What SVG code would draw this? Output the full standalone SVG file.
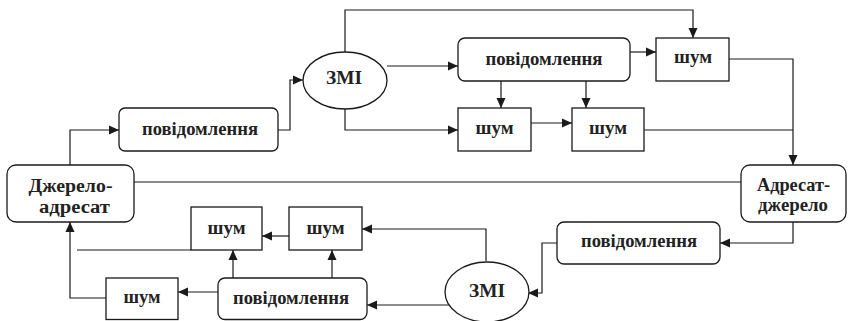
<svg xmlns="http://www.w3.org/2000/svg" width="848" height="321" viewBox="0 0 848 321">
<defs>
<marker id="ah" markerUnits="userSpaceOnUse" markerWidth="12" markerHeight="10" refX="10" refY="5" orient="auto">
<path d="M0,0.5 L10,5 L0,9.5 Z" fill="#1a1a1a"/>
</marker>
</defs>
<rect width="848" height="321" fill="#fff"/>
<g id="connectors" fill="none" stroke="#1a1a1a" stroke-width="1.2">
<path marker-end="url(#ah)" d="M70,165 V130 H119"/>
<path marker-end="url(#ah)" d="M278,130 H290 V80 H303"/>
<path marker-end="url(#ah)" d="M345,52 V10 H693 V38"/>
<path marker-end="url(#ah)" d="M345,109 V130 H458"/>
<path marker-end="url(#ah)" d="M387,66 H458"/>
<path marker-end="url(#ah)" d="M630,52 H656"/>
<path marker-end="url(#ah)" d="M501,81 V108"/>
<path marker-end="url(#ah)" d="M586,81 V108"/>
<path marker-end="url(#ah)" d="M529,123 H572"/>
<path marker-end="url(#ah)" d="M729,59 H793 V165"/>
<path d="M644,130 H793"/>
<path d="M134,182 H741"/>
<path marker-end="url(#ah)" d="M793,222 V243 H720"/>
<path marker-end="url(#ah)" d="M557,243 H542 V293 H528"/>
<path marker-end="url(#ah)" d="M486,261 V229 H362"/>
<path marker-end="url(#ah)" d="M449,305 H367"/>
<path marker-end="url(#ah)" d="M218,292 H178"/>
<path marker-end="url(#ah)" d="M233,278 V250"/>
<path marker-end="url(#ah)" d="M332,278 V250"/>
<path marker-end="url(#ah)" d="M292,236 H262"/>
<path d="M77,250 H191"/>
<path marker-end="url(#ah)" d="M106,298 H70 V222"/>
</g>
<g id="nodes" fill="#fff" stroke="#1a1a1a" stroke-width="1.3">
<g id="dzherelo-adresat">
<rect x="7" y="165" width="127" height="57" rx="9"/>
<text x="70.5" y="192" font-family="Times New Roman, Liberation Serif, serif" font-weight="700" font-size="18" fill="#222" stroke="none" text-anchor="middle" textLength="84" lengthAdjust="spacingAndGlyphs">Джерело-</text>
<text x="74.5" y="213" font-family="Times New Roman, Liberation Serif, serif" font-weight="700" font-size="18" fill="#222" stroke="none" text-anchor="middle" textLength="71" lengthAdjust="spacingAndGlyphs">адресат</text>
</g>
<g id="povidomlennia1">
<rect x="119" y="108" width="159" height="43" rx="6"/>
<text x="200" y="135" font-family="Times New Roman, Liberation Serif, serif" font-weight="700" font-size="18" fill="#222" stroke="none" text-anchor="middle" textLength="116" lengthAdjust="spacingAndGlyphs">повідомлення</text>
</g>
<g id="zmi1">
<ellipse cx="345" cy="80.5" rx="42" ry="28.5"/>
<text x="344" y="84" font-family="Times New Roman, Liberation Serif, serif" font-weight="700" font-size="18" fill="#222" stroke="none" text-anchor="middle" textLength="36" lengthAdjust="spacingAndGlyphs">ЗМІ</text>
</g>
<g id="povidomlennia2">
<rect x="458" y="38" width="172" height="43" rx="7"/>
<text x="544" y="65" font-family="Times New Roman, Liberation Serif, serif" font-weight="700" font-size="18" fill="#222" stroke="none" text-anchor="middle" textLength="117" lengthAdjust="spacingAndGlyphs">повідомлення</text>
</g>
<g id="shum1">
<rect x="656" y="38" width="73" height="43"/>
<text x="693" y="63" font-family="Times New Roman, Liberation Serif, serif" font-weight="700" font-size="18" fill="#222" stroke="none" text-anchor="middle" textLength="38" lengthAdjust="spacingAndGlyphs">шум</text>
</g>
<g id="shum2">
<rect x="458" y="108" width="73" height="43"/>
<text x="494.5" y="134" font-family="Times New Roman, Liberation Serif, serif" font-weight="700" font-size="18" fill="#222" stroke="none" text-anchor="middle" textLength="38" lengthAdjust="spacingAndGlyphs">шум</text>
</g>
<g id="shum3">
<rect x="572" y="108" width="72" height="43"/>
<text x="608" y="134" font-family="Times New Roman, Liberation Serif, serif" font-weight="700" font-size="18" fill="#222" stroke="none" text-anchor="middle" textLength="38" lengthAdjust="spacingAndGlyphs">шум</text>
</g>
<g id="adresat-dzherelo">
<rect x="741" y="165" width="105" height="57" rx="9"/>
<text x="793.5" y="191" font-family="Times New Roman, Liberation Serif, serif" font-weight="700" font-size="18" fill="#222" stroke="none" text-anchor="middle" textLength="73" lengthAdjust="spacingAndGlyphs">Адресат-</text>
<text x="793" y="211" font-family="Times New Roman, Liberation Serif, serif" font-weight="700" font-size="18" fill="#222" stroke="none" text-anchor="middle" textLength="70" lengthAdjust="spacingAndGlyphs">джерело</text>
</g>
<g id="povidomlennia4">
<rect x="557" y="222" width="163" height="42" rx="7"/>
<text x="639" y="247" font-family="Times New Roman, Liberation Serif, serif" font-weight="700" font-size="18" fill="#222" stroke="none" text-anchor="middle" textLength="116" lengthAdjust="spacingAndGlyphs">повідомлення</text>
</g>
<g id="zmi2">
<ellipse cx="487" cy="292" rx="42" ry="30"/>
<text x="487" y="297" font-family="Times New Roman, Liberation Serif, serif" font-weight="700" font-size="18" fill="#222" stroke="none" text-anchor="middle" textLength="36" lengthAdjust="spacingAndGlyphs">ЗМІ</text>
</g>
<g id="shum4">
<rect x="191" y="207" width="71" height="43"/>
<text x="226.5" y="234" font-family="Times New Roman, Liberation Serif, serif" font-weight="700" font-size="18" fill="#222" stroke="none" text-anchor="middle" textLength="38" lengthAdjust="spacingAndGlyphs">шум</text>
</g>
<g id="shum5">
<rect x="289" y="207" width="73" height="43"/>
<text x="325.5" y="234" font-family="Times New Roman, Liberation Serif, serif" font-weight="700" font-size="18" fill="#222" stroke="none" text-anchor="middle" textLength="38" lengthAdjust="spacingAndGlyphs">шум</text>
</g>
<g id="shum6">
<rect x="106" y="278" width="72" height="41.5"/>
<text x="142" y="303" font-family="Times New Roman, Liberation Serif, serif" font-weight="700" font-size="18" fill="#222" stroke="none" text-anchor="middle" textLength="37" lengthAdjust="spacingAndGlyphs">шум</text>
</g>
<g id="povidomlennia3">
<rect x="218" y="278" width="149" height="41.5" rx="7"/>
<text x="291" y="304" font-family="Times New Roman, Liberation Serif, serif" font-weight="700" font-size="18" fill="#222" stroke="none" text-anchor="middle" textLength="116" lengthAdjust="spacingAndGlyphs">повідомлення</text>
</g>
</g>
</svg>
